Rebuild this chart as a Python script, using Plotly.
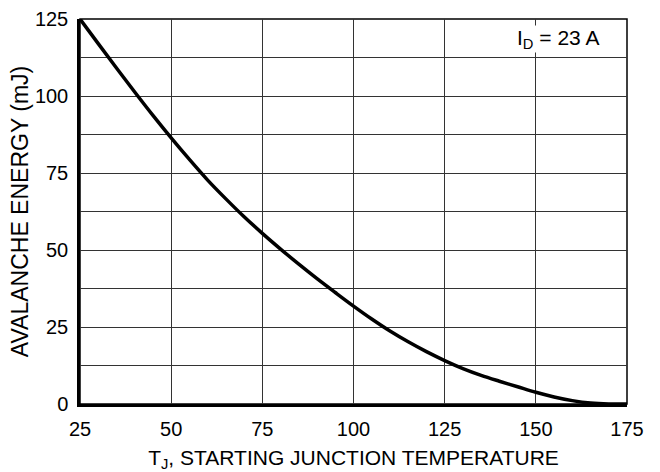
import plotly.graph_objects as go

# Data
tj = [25, 30, 35, 40, 45, 50, 55, 60, 65, 70, 75, 80, 85, 90, 95, 100,
      105, 110, 115, 120, 125, 130, 135, 140, 145, 150, 155, 160, 165, 170, 175]
energy = [125, 117.0, 109.1, 101.3, 93.7, 86.4, 79.4, 72.7, 66.6, 60.8, 55.4,
          50.3, 45.4, 40.7, 36.2, 31.8, 27.6, 23.7, 20.2, 17.0, 14.1, 11.5,
          9.3, 7.4, 5.6, 3.8, 2.3, 1.1, 0.3, 0.0, 0.0]
x_ticks = [25, 50, 75, 100, 125, 150, 175]
y_ticks = [0, 25, 50, 75, 100, 125]

FONT = "Liberation Sans, Arial, Helvetica, sans-serif"
GRID = "#333333"

fig = go.Figure()
fig.add_trace(go.Scatter(
    x=tj, y=energy, mode="lines",
    line=dict(color="black", width=3.5, shape="spline", smoothing=1.0),
    showlegend=False, hoverinfo="skip",
))

fig.update_layout(
    width=660, height=472,
    margin=dict(l=80, r=33, t=19, b=68, autoexpand=False),
    paper_bgcolor="white", plot_bgcolor="white",
    font=dict(family=FONT, size=20, color="black"),
    xaxis=dict(
        range=[25, 175], tickvals=x_ticks, ticktext=[str(v) for v in x_ticks],
        showgrid=True, gridcolor=GRID, gridwidth=1,
        showline=True, linecolor="black", linewidth=2.5,
        ticks="outside", ticklen=5, tickcolor="rgba(0,0,0,0)",
        tickfont=dict(size=20),
        zeroline=False,
        title=dict(text="T<sub>J</sub>, STARTING JUNCTION TEMPERATURE",
                   font=dict(size=21), standoff=14),
    ),
    yaxis=dict(
        range=[0, 125], tickvals=y_ticks, ticktext=[str(v) for v in y_ticks],
        showgrid=True, gridcolor=GRID, gridwidth=1,
        minor=dict(dtick=12.5, tick0=0, showgrid=True, gridcolor=GRID, gridwidth=1),
        showline=True, linecolor="black", linewidth=2.5,
        ticks="outside", ticklen=5, tickcolor="rgba(0,0,0,0)",
        tickfont=dict(size=20),
        zeroline=False,
        title=dict(text="AVALANCHE ENERGY (mJ)", font=dict(size=23), standoff=0),
    ),
    shapes=[dict(type="rect", xref="paper", yref="paper", x0=0, x1=1, y0=0, y1=1,
                 line=dict(color="black", width=1.5), layer="below")],
    annotations=[dict(
        x=156, y=118.5, xref="x", yref="y", xanchor="center", yanchor="middle",
        text="I<sub>D</sub> = 23 A", showarrow=False,
        font=dict(size=21, family=FONT), bgcolor="white", borderpad=0,
    )],
)

fig.write_html("out.html", config={"displayModeBar": False},
               post_script="document.body.style.margin='0px';")
